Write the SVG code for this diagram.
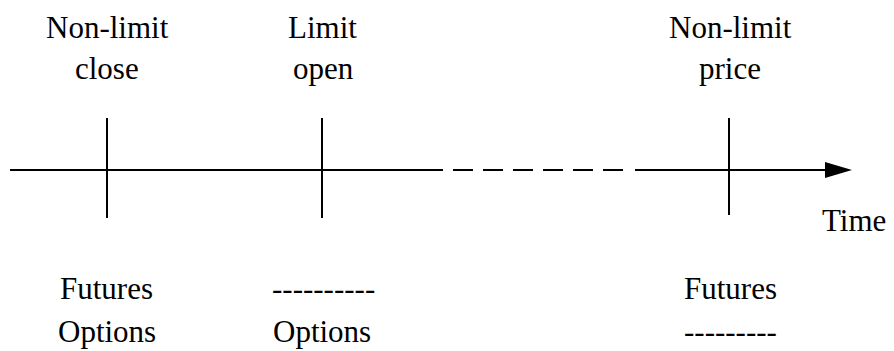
<svg xmlns="http://www.w3.org/2000/svg" width="894" height="351" viewBox="0 0 894 351">
<rect width="894" height="351" fill="#fff"/>
<g id="connectors" stroke="#000" stroke-width="2" fill="none">
<line x1="10" y1="170" x2="443" y2="170"/>
<line x1="453" y1="170" x2="625" y2="170" stroke-dasharray="20 10"/>
<line x1="635" y1="170" x2="838" y2="170"/>
<polygon points="825,162 852,170 825,178" fill="#000" stroke="none"/>
</g>
<g id="node-nonlimit-close">
<line x1="107" y1="118" x2="107" y2="218" stroke="#000" stroke-width="2"/>
<text x="46" y="38" font-family="Liberation Serif" font-size="31">Non-limit</text>
<text x="75" y="79" font-family="Liberation Serif" font-size="31">close</text>
<text x="60" y="299" font-family="Liberation Serif" font-size="31">Futures</text>
<text x="58" y="342" font-family="Liberation Serif" font-size="31">Options</text>
</g>
<g id="node-limit-open">
<line x1="322" y1="118" x2="322" y2="218" stroke="#000" stroke-width="2"/>
<text x="288" y="38" font-family="Liberation Serif" font-size="31">Limit</text>
<text x="293" y="79" font-family="Liberation Serif" font-size="31">open</text>
<text x="272" y="299" font-family="Liberation Serif" font-size="31">----------</text>
<text x="273" y="342" font-family="Liberation Serif" font-size="31">Options</text>
</g>
<g id="node-nonlimit-price">
<line x1="729" y1="118" x2="729" y2="215" stroke="#000" stroke-width="2"/>
<text x="669" y="38" font-family="Liberation Serif" font-size="31">Non-limit</text>
<text x="699" y="79" font-family="Liberation Serif" font-size="31">price</text>
<text x="684" y="299" font-family="Liberation Serif" font-size="31">Futures</text>
<text x="684" y="342" font-family="Liberation Serif" font-size="31">---------</text>
</g>
<g id="node-time">
<text x="822" y="231" font-family="Liberation Serif" font-size="31">Time</text>
</g>
</svg>
